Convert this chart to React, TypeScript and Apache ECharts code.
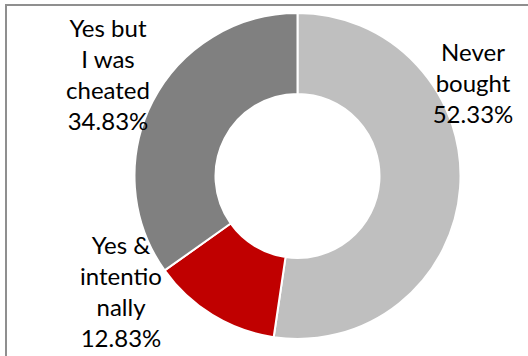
import React, { useEffect, useRef } from "react";
import * as echarts from "echarts";

const categories = ["Never bought", "Yes & intentionally", "Yes but I was cheated"];
const wrappedNames = ["Never\nbought", "Yes &\nintentio\nnally", "Yes but\nI was\ncheated"];
const values = [52.33, 12.83, 34.83];
const colors = ["#BFBFBF", "#C00000", "#808080"];
const labelAnchors = [
  [473, 82],
  [121, 291],
  [108, 74],
];

export default function App() {
  const ref = useRef<HTMLDivElement>(null);
  useEffect(() => {
    if (!ref.current) return;
    const chart = echarts.init(ref.current, undefined, { renderer: "svg" });
    chart.setOption({
      animation: false,
      backgroundColor: "#ffffff",
      graphic: [
        {
          type: "rect",
          shape: { x: 6, y: 5, width: 600, height: 400 },
          style: { fill: "none", stroke: "#8f8f8f", lineWidth: 2 },
          z: 0,
        },
      ],
      series: [
        {
          type: "pie",
          center: [297.5, 176],
          radius: [82, 163],
          startAngle: 90,
          clockwise: true,
          avoidLabelOverlap: false,
          itemStyle: { borderColor: "#ffffff", borderWidth: 2 },
          emphasis: { disabled: true },
          labelLine: { show: false },
          label: {
            show: true,
            position: "outside",
            fontFamily: "Lato",
            fontSize: 24,
            lineHeight: 31,
            color: "#000000",
            align: "center",
            formatter: (p: any) =>
              `${wrappedNames[p.dataIndex]}\n${(p.value as number).toFixed(2)}%`,
          },
          labelLayout: (p: any) => ({
            x: labelAnchors[p.dataIndex][0],
            y: labelAnchors[p.dataIndex][1],
            align: "center",
            verticalAlign: "middle",
          }),
          data: categories.map((name, i) => ({
            name,
            value: values[i],
            itemStyle: { color: colors[i] },
          })),
        },
      ],
    });
    return () => chart.dispose();
  }, []);
  return (
    <div
      ref={ref}
      style={{ position: "fixed", left: 0, top: 0, width: 528, height: 356 }}
    />
  );
}
